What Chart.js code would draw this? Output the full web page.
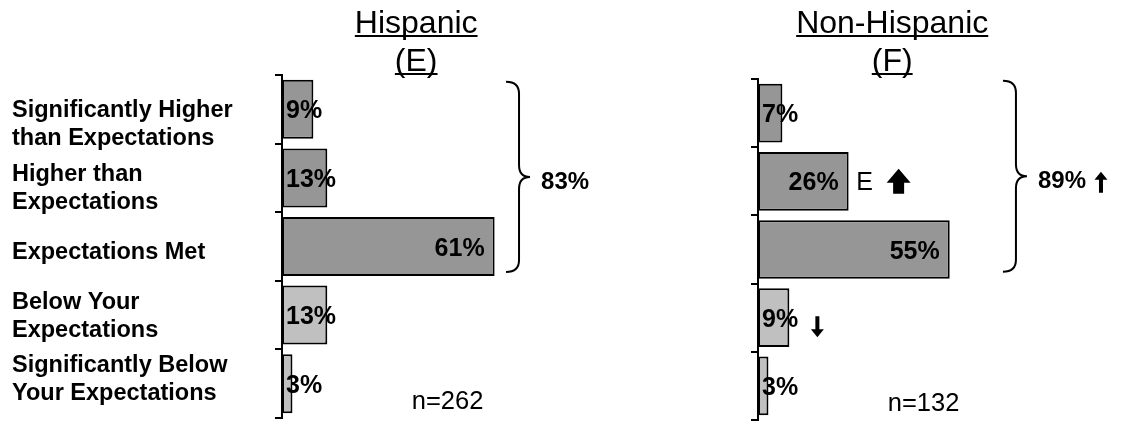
<!DOCTYPE html>
<html>
<head>
<meta charset="utf-8">
<title>Satisfaction vs expectations</title>
<script src="https://cdn.jsdelivr.net/npm/chart.js@4.4.1/dist/chart.umd.min.js"></script>
<style>
  html, body { margin: 0; padding: 0; background: #fff; }
  #wrap { position: relative; width: 1121px; height: 425px; overflow: hidden; }
  canvas { position: absolute; top: 0; }
  #leftChart { left: 0; }
  #rightChart { left: 620px; }
</style>
</head>
<body>
<div id="wrap">
  <canvas id="leftChart" width="620" height="425"></canvas>
  <canvas id="rightChart" width="501" height="425"></canvas>
</div>
<script>
const categories = [
    ['Significantly Higher', 'than Expectations'],
    ['Higher than', 'Expectations'],
    ['Expectations Met'],
    ['Below Your', 'Expectations'],
    ['Significantly Below', 'Your Expectations']
];
const hispanicValues = [9, 13, 61, 13, 3];
const nonHispanicValues = [7, 26, 55, 9, 3];
const hispanicTop3 = 83;
const nonHispanicTop3 = 89;
const hispanicN = 262;
const nonHispanicN = 132;
// significance vs the other column
const hispanicSigLetters = ['', '', '', '', ''];
const hispanicTrend = ['', '', '', '', ''];
const nonHispanicSigLetters = ['', 'E', '', '', ''];
const nonHispanicTrend = ['', 'up', '', 'down', ''];
const hispanicTop3Trend = '';
const nonHispanicTop3Trend = 'up';

const FONT = "'Liberation Sans', Arial, sans-serif";
const DARK = '#969696';
const LIGHT = '#c0c0c0';

const thinArrow = (ctx, cx, cy, dir) => {
    // 21px tall arrow, head 13 wide
    const h = 21, hw = 6.5, hh = 8, sw = 2;
    const s = dir === 'up' ? -1 : 1;
    const tip = cy + s * h / 2;
    const base = cy - s * h / 2;
    const neck = tip - s * hh;
    ctx.beginPath();
    ctx.moveTo(cx, tip);
    ctx.lineTo(cx + hw, neck);
    ctx.lineTo(cx + sw, neck);
    ctx.lineTo(cx + sw, base);
    ctx.lineTo(cx - sw, base);
    ctx.lineTo(cx - sw, neck);
    ctx.lineTo(cx - hw, neck);
    ctx.closePath();
    ctx.fill();
};

const blockArrow = (ctx, cx, cy, dir) => {
    const h = 25, hw = 12, hh = 14, sw = 5.5;
    const s = dir === 'up' ? -1 : 1;
    const tip = cy + s * h / 2;
    const base = cy - s * h / 2;
    const neck = tip - s * hh;
    ctx.beginPath();
    ctx.moveTo(cx, tip);
    ctx.lineTo(cx + hw, neck);
    ctx.lineTo(cx + sw, neck);
    ctx.lineTo(cx + sw, base);
    ctx.lineTo(cx - sw, base);
    ctx.lineTo(cx - sw, neck);
    ctx.lineTo(cx - hw, neck);
    ctx.closePath();
    ctx.fill();
};

const drawBrace = (ctx, xv, top, bottom) => {
    const mid = (top + bottom) / 2;
    const r = 12, tip = 11;
    ctx.beginPath();
    ctx.moveTo(xv - 13, top);
    ctx.quadraticCurveTo(xv, top, xv, top + r);
    ctx.lineTo(xv, mid - r);
    ctx.quadraticCurveTo(xv, mid, xv + tip, mid);
    ctx.quadraticCurveTo(xv, mid, xv, mid + r);
    ctx.lineTo(xv, bottom - r);
    ctx.quadraticCurveTo(xv, bottom, xv - 13, bottom);
    ctx.lineWidth = 2;
    ctx.strokeStyle = '#000';
    ctx.stroke();
};

const surveyMarks = {
    id: 'surveyMarks',
    afterDatasetsDraw(chart, args, opts) {
        const ctx = chart.ctx;
        const x = chart.scales.x;
        const y = chart.scales.y;
        const area = chart.chartArea;
        const bars = chart.getDatasetMeta(0).data.map(b => b.getProps(['x', 'base', 'y', 'height'], true));
        ctx.save();
        ctx.fillStyle = '#000';

        // column title, underlined
        const tx = x.getPixelForValue(opts.titleAt);
        ctx.font = '32px ' + FONT;
        ctx.textAlign = 'center';
        ctx.textBaseline = 'alphabetic';
        [[opts.title, 33], [opts.letter, 71]].forEach(([t, b]) => {
            ctx.fillText(t, tx, b);
            const w = ctx.measureText(t).width;
            ctx.fillRect(tx - w / 2, b + 2, w, 2);
        });

        // value labels
        ctx.font = 'bold 25px ' + FONT;
        opts.values.forEach((v, i) => {
            const bar = bars[i];
            const txt = v + '%';
            const w = ctx.measureText(txt).width;
            const by = bar.y + 9;
            if (bar.x - bar.base > w + 14) {
                ctx.textAlign = 'right';
                ctx.fillText(txt, bar.x - 10, by);
            } else {
                ctx.textAlign = 'left';
                ctx.fillText(txt, bar.base + 4, by);
            }
        });

        // significance marks
        opts.letters.forEach((l, i) => {
            const bar = bars[i];
            if (l) {
                ctx.font = '25px ' + FONT;
                ctx.textAlign = 'center';
                ctx.fillText(l, bar.x + 16, bar.y + 9);
                if (opts.trend[i]) blockArrow(ctx, bar.x + 50, bar.y, opts.trend[i]);
            } else if (opts.trend[i]) {
                thinArrow(ctx, bar.x + 28, bar.y + 9, opts.trend[i]);
            }
        });

        // brace over the top three
        const top = bars[0].y - bars[0].height / 2 + opts.braceTopAdj;
        const bottom = bars[2].y + bars[2].height / 2 + opts.braceBottomAdj;
        const bx = x.getPixelForValue(opts.braceAt);
        drawBrace(ctx, bx, top, bottom);
        const mid = (top + bottom) / 2;
        ctx.font = 'bold 24px ' + FONT;
        ctx.textAlign = 'left';
        const tt = opts.top3 + '%';
        const tl = bx + 22;
        ctx.fillText(tt, tl, mid + 3 + 8.6);
        if (opts.top3Trend) {
            thinArrow(ctx, tl + ctx.measureText(tt).width + 15, mid + 6, opts.top3Trend);
        }

        // base size
        ctx.font = '25.5px ' + FONT;
        ctx.textAlign = 'center';
        ctx.fillText('n=' + opts.n, x.getPixelForValue(opts.nAt), area.bottom - 9);

        // category labels (left panel only)
        if (opts.showCategories) {
            ctx.font = 'bold 23.5px ' + FONT;
            ctx.textAlign = 'left';
            const ymid = (area.top + area.bottom) / 2;
            categories.forEach((lines, i) => {
                const c = y.getPixelForValue(i);
                const center = ymid + 4 + (c - ymid) * 0.93;
                const b1 = center - ((lines.length - 1) * 28 - 16.8) / 2;
                lines.forEach((line, j) => ctx.fillText(line, 12, b1 + j * 28));
            });
        }
        ctx.restore();
    }
};

const makeChart = (id, values, axisWidth, padding, marks) => new Chart(document.getElementById(id), {
    type: 'bar',
    data: {
        labels: categories.map(c => c.join(' ')),
        datasets: [{
            data: values,
            backgroundColor: [DARK, DARK, DARK, LIGHT, LIGHT],
            borderColor: '#000',
            borderWidth: 2,
            borderSkipped: false,
            barPercentage: 0.86,
            categoryPercentage: 1
        }]
    },
    options: {
        indexAxis: 'y',
        responsive: false,
        animation: false,
        layout: { padding },
        scales: {
            x: { display: false, min: 0, max: 70 },
            y: {
                grid: {
                    display: true,
                    drawOnChartArea: false,
                    drawTicks: true,
                    tickLength: 7,
                    color: '#000',
                    lineWidth: 2
                },
                border: { display: true, color: '#000', width: 2 },
                ticks: { display: false },
                afterFit: (scale) => { scale.width = axisWidth; }
            }
        },
        plugins: {
            legend: { display: false },
            tooltip: { enabled: false },
            surveyMarks: marks
        }
    },
    plugins: [surveyMarks]
});

makeChart('leftChart', hispanicValues, 282, { left: 0, top: 75, bottom: 7, right: 94 }, {
    title: 'Hispanic', letter: '(E)', titleAt: 38.5,
    values: hispanicValues, letters: hispanicSigLetters, trend: hispanicTrend,
    top3: hispanicTop3, top3Trend: hispanicTop3Trend,
    braceAt: 68, braceTopAdj: 2, braceBottomAdj: -4,
    n: hispanicN, nAt: 47.5, showCategories: true
});

makeChart('rightChart', nonHispanicValues, 138, { left: 0, top: 79, bottom: 5, right: 119 }, {
    title: 'Non-Hispanic', letter: '(F)', titleAt: 38.5,
    values: nonHispanicValues, letters: nonHispanicSigLetters, trend: nonHispanicTrend,
    top3: nonHispanicTop3, top3Trend: nonHispanicTop3Trend,
    braceAt: 74, braceTopAdj: -3, braceBottomAdj: -7,
    n: nonHispanicN, nAt: 47.5, showCategories: false
});
</script>
</body>
</html>
